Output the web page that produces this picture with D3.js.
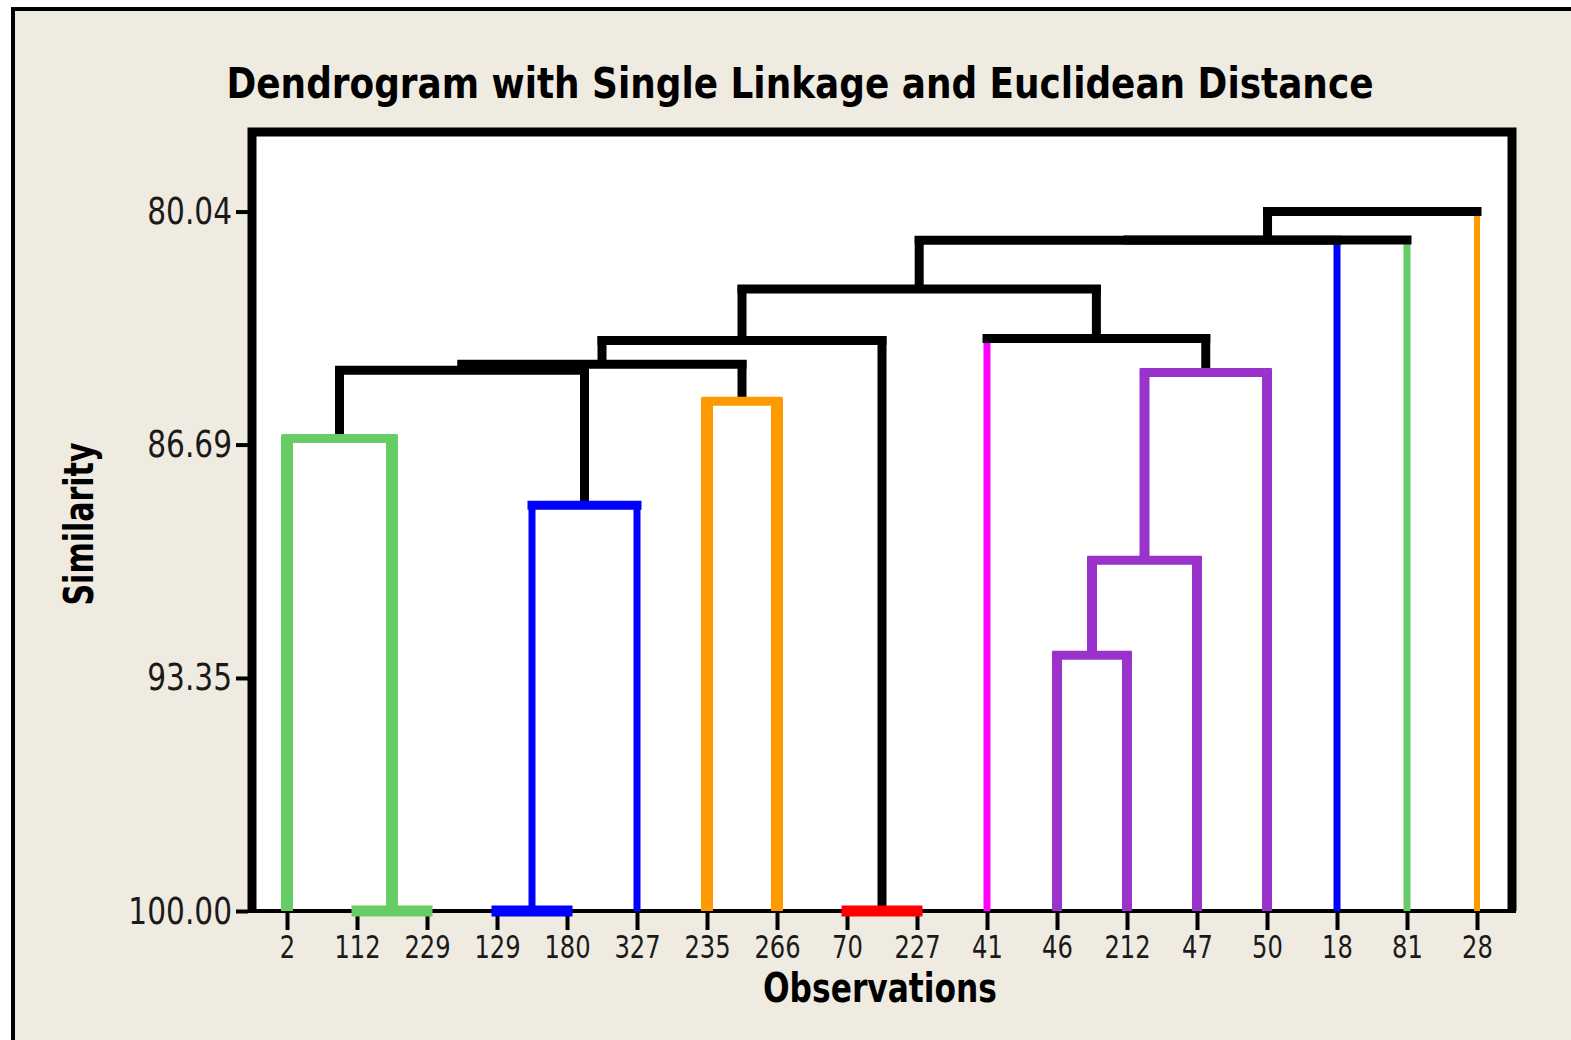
<!DOCTYPE html>
<html>
<head>
<meta charset="utf-8">
<script src="https://cdn.jsdelivr.net/npm/d3@7"></script>
<style>
  body { margin: 0; background: #fff; }
  svg { display: block; }
</style>
</head>
<body>
<svg id="chart"></svg>
<script>
// observations in the order they appear along the x axis
const observations = ['2', '112', '229', '129', '180', '327', '235', '266', '70', '227',
  '41', '46', '212', '47', '50', '18', '81', '28'];
// final cluster of each observation (same order as above)
const clusterOf = [1, 1, 1, 2, 2, 2, 3, 3, 4, 4, 5, 6, 6, 6, 6, 7, 8, 9];

// amalgamation steps m1..m17: the two joined clusters and the similarity level
const mergePairs = [
  ['112', '229'], ['129', '180'], ['70', '227'], ['46', '212'], ['m4', '47'],
  ['m2', '327'], ['2', 'm1'], ['235', '266'], ['m5', '50'], ['m7', 'm6'],
  ['m10', 'm8'], ['m11', 'm3'], ['41', 'm9'], ['m12', 'm13'], ['m14', '18'],
  ['m15', '81'], ['m16', '28'],
];
const mergeSimilarity = [100, 100, 100, 92.7, 89.99, 88.42, 86.52, 85.45, 84.63,
  84.57, 84.4, 83.72, 83.66, 82.25, 80.86, 80.85, 80.04];

const yTicks = [80.04, 86.69, 93.35, 100.0];

// styles
const clusterColor = { 1: '#66cc66', 2: '#0000ff', 3: '#ff9900', 4: '#ff0000', 5: '#ff00ff',
  6: '#9933cc', 7: '#0000ff', 8: '#66cc66', 9: '#ff9900' };
const clusterWidth = { 1: 12, 2: 7, 3: 12, 4: 9, 5: 7, 6: 10, 7: 7, 8: 7, 9: 6 };
const narrow = "'Liberation Sans Narrow', 'Arial Narrow', 'DejaVu Sans Condensed', sans-serif";

const width = 1571;
const height = 1040;
const frame = { left: 252, right: 1512, top: 132, bottom: 911 };

const svg = d3.select('#chart').attr('width', width).attr('height', height);

// page background and outer border
svg.append('rect').attr('width', width).attr('height', height).attr('fill', '#fff');
svg.append('rect').attr('x', 13).attr('y', 9).attr('width', width).attr('height', height)
  .attr('fill', '#efebe1');
svg.append('path').attr('d', `M13,${height} V9 H${width}`)
  .attr('fill', 'none').attr('stroke', '#000').attr('stroke-width', 4);

// plot area
svg.append('rect')
  .attr('x', frame.left).attr('y', frame.top)
  .attr('width', frame.right - frame.left).attr('height', frame.bottom - frame.top)
  .attr('fill', '#fff');

const x = d3.scalePoint().domain(observations).range([frame.left, frame.right]).padding(0.5);
const y = d3.scaleLinear().domain([77.77, 100]).range([frame.top, frame.bottom]);

// build the tree
const nodes = {};
observations.forEach((name, i) => {
  nodes[name] = { name, sim: 100, x: x(name), leaves: [i] };
});
mergePairs.forEach(([a, b], i) => {
  const name = `m${i + 1}`;
  const left = nodes[a];
  const right = nodes[b];
  const node = {
    name,
    sim: mergeSimilarity[i],
    x: (left.x + right.x) / 2,
    leaves: [...left.leaves, ...right.leaves],
    children: [left, right],
  };
  left.parent = node;
  right.parent = node;
  nodes[name] = node;
});

function nodeCluster(node) {
  const ids = new Set(node.leaves.map((i) => clusterOf[i]));
  return ids.size === 1 ? [...ids][0] : null;
}

const horizontals = [];
const legs = [];
Object.values(nodes).forEach((node) => {
  if (node.children) {
    const c = nodeCluster(node);
    horizontals.push({
      x1: node.children[0].x, x2: node.children[1].x, sim: node.sim,
      color: c ? clusterColor[c] : '#000', w: c ? (node.sim === 100 ? 11 : 9) : 9,
    });
  }
  if (node.parent && node.parent.sim < node.sim) {
    let c = null;
    if (!node.children) c = clusterOf[node.leaves[0]];
    else c = nodeCluster(node.parent);
    legs.push({
      x: node.x, from: node.sim, to: node.parent.sim,
      color: c ? clusterColor[c] : '#000', w: c ? clusterWidth[c] : 9,
    });
  }
});

// squeeze tick labels to the narrow look of the original
function squeeze(sel, k) {
  sel.each(function () {
    const len = this.getComputedTextLength();
    d3.select(this).attr('textLength', len * k).attr('lengthAdjust', 'spacingAndGlyphs');
  });
}

// axes
const yAxis = svg.append('g')
  .attr('transform', `translate(${frame.left - 4},0)`)
  .call(d3.axisLeft(y).tickValues(yTicks).tickFormat(d3.format('.2f')).tickSize(12).tickPadding(4));
yAxis.select('.domain').remove();
yAxis.selectAll('line').attr('stroke', '#000').attr('stroke-width', 4);
yAxis.selectAll('text')
  .attr('dy', 12).attr('fill', '#1a1a1a')
  .style('font-family', narrow).style('font-size', '37px')
  .call(squeeze, 0.89);

const xAxis = svg.append('g')
  .attr('transform', `translate(0,${frame.bottom + 2})`)
  .call(d3.axisBottom(x).tickSize(17));
xAxis.select('.domain').remove();
xAxis.selectAll('line').attr('stroke', '#000').attr('stroke-width', 4);
xAxis.selectAll('text')
  .attr('y', 45).attr('dy', 0).attr('fill', '#1a1a1a')
  .style('font-family', narrow).style('font-size', '32px')
  .call(squeeze, 0.84);

// frame lines
svg.append('path')
  .attr('d', `M${frame.left},${frame.bottom} V${frame.top} H${frame.right} V${frame.bottom}`)
  .attr('fill', 'none').attr('stroke', '#000').attr('stroke-width', 9);
svg.append('line')
  .attr('x1', frame.left - 4).attr('x2', frame.right + 4)
  .attr('y1', frame.bottom).attr('y2', frame.bottom)
  .attr('stroke', '#000').attr('stroke-width', 4);

// dendrogram
const links = svg.append('g');
links.selectAll('line.leg')
  .data(legs)
  .join('line')
  .attr('class', 'leg')
  .attr('x1', (d) => d.x).attr('x2', (d) => d.x)
  .attr('y1', (d) => y(d.from)).attr('y2', (d) => y(d.to) - 4)
  .attr('stroke', (d) => d.color).attr('stroke-width', (d) => d.w);
links.selectAll('line.join')
  .data(horizontals)
  .join('line')
  .attr('class', 'join')
  .attr('x1', (d) => d.x1).attr('x2', (d) => d.x2)
  .attr('y1', (d) => y(d.sim)).attr('y2', (d) => y(d.sim))
  .attr('stroke', (d) => d.color).attr('stroke-width', (d) => d.w)
  .attr('stroke-linecap', 'square');

// titles
svg.append('text')
  .attr('x', 800).attr('y', 98)
  .attr('text-anchor', 'middle')
  .attr('textLength', 1147).attr('lengthAdjust', 'spacingAndGlyphs')
  .style('font-family', narrow).style('font-weight', 'bold').style('font-size', '42px')
  .text('Dendrogram with Single Linkage and Euclidean Distance');

svg.append('text')
  .attr('x', 880).attr('y', 1002)
  .attr('text-anchor', 'middle')
  .attr('textLength', 234).attr('lengthAdjust', 'spacingAndGlyphs')
  .style('font-family', narrow).style('font-weight', 'bold').style('font-size', '40px')
  .text('Observations');

svg.append('text')
  .attr('transform', 'translate(93,524) rotate(-90)')
  .attr('text-anchor', 'middle')
  .attr('textLength', 163).attr('lengthAdjust', 'spacingAndGlyphs')
  .style('font-family', narrow).style('font-weight', 'bold').style('font-size', '40px')
  .text('Similarity');
</script>
</body>
</html>
